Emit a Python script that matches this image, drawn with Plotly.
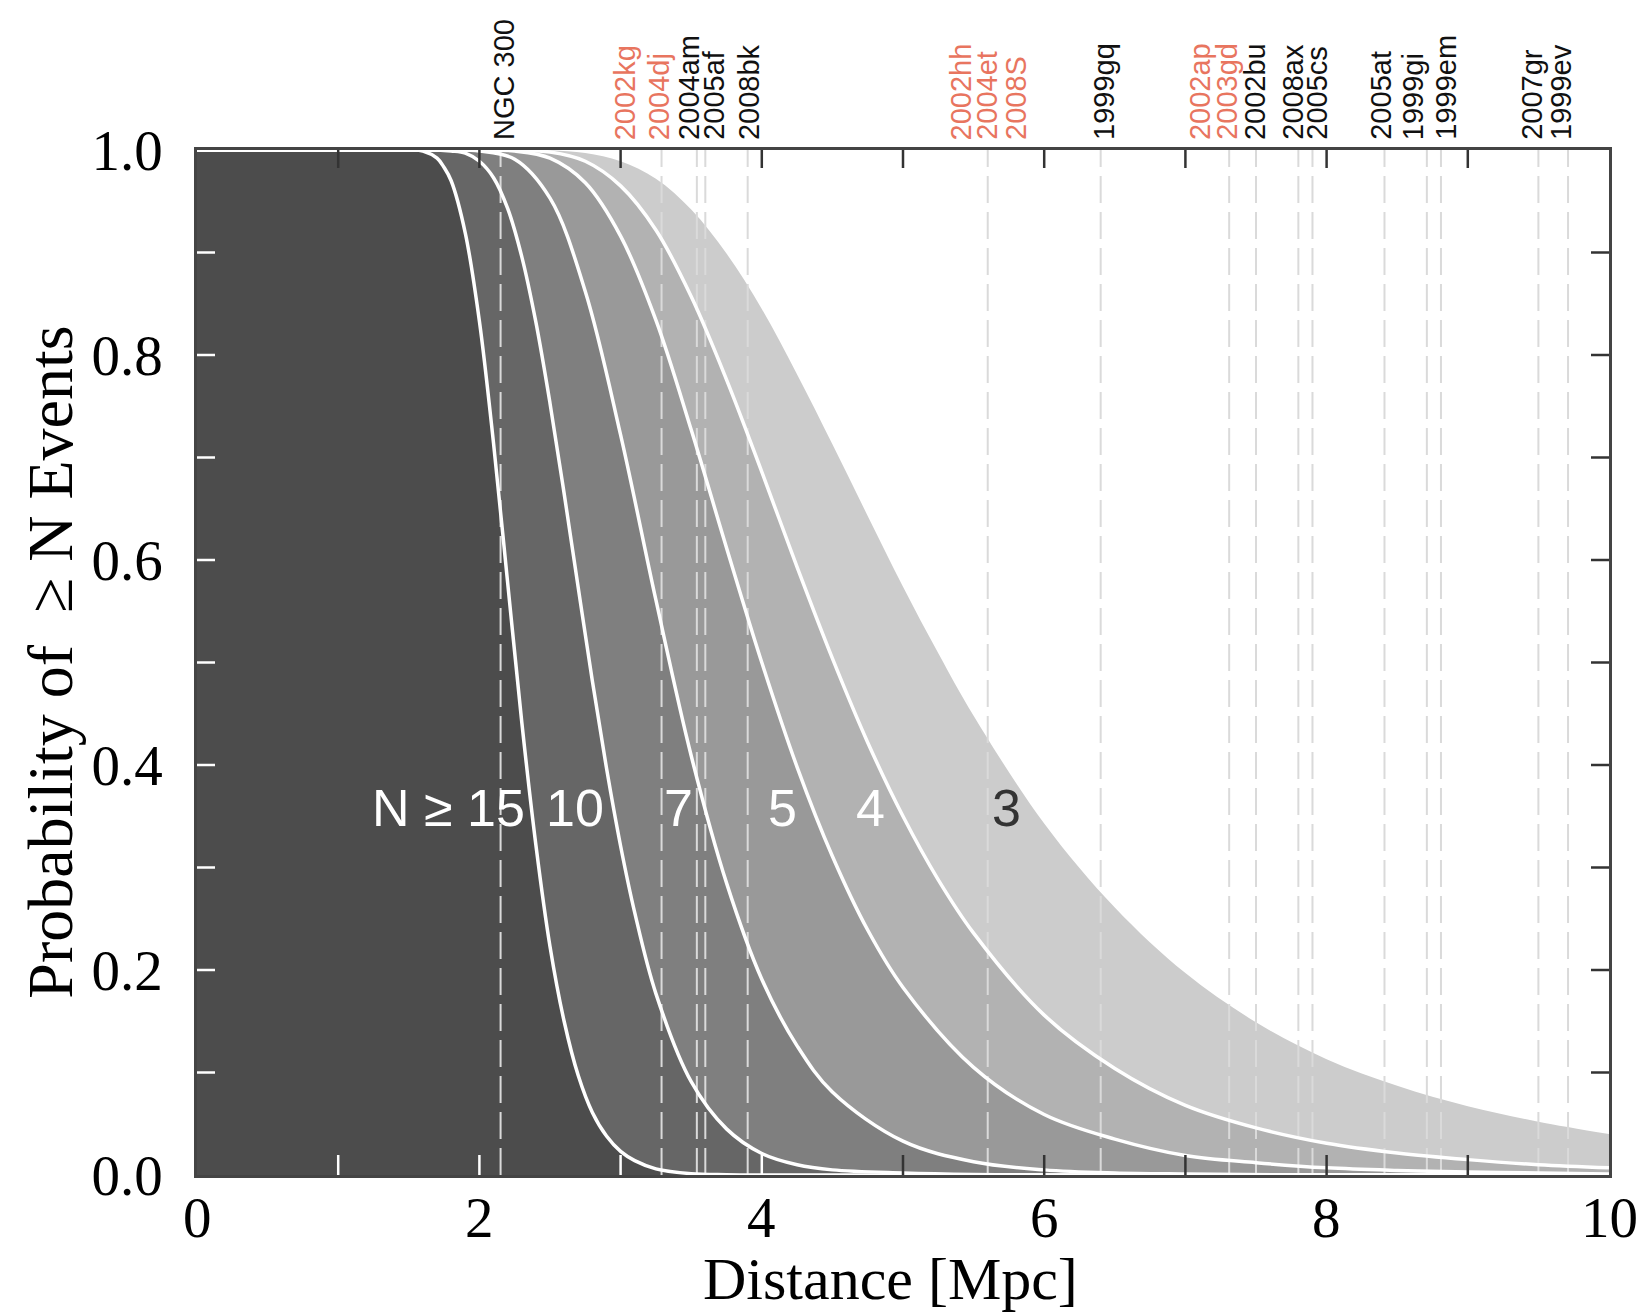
import plotly.graph_objects as go

# Probability of detecting at least N events versus distance (Mpc)
dist_n3 = [0, 1.0, 1.5, 2.0, 2.25, 2.5, 2.75, 3.0, 3.25, 3.5, 3.75, 4.0, 4.25, 4.5, 4.75, 5.0,
           5.25, 5.5, 6.0, 6.5, 7.0, 7.5, 8.0, 8.5, 9.0, 9.5, 10]
prob_n3 = [1, 1, 1, 1, 1, 0.9995, 0.997, 0.989, 0.972, 0.942, 0.899, 0.845, 0.781, 0.713, 0.643, 0.574,
           0.509, 0.448, 0.343, 0.261, 0.197, 0.149, 0.113, 0.087, 0.067, 0.052, 0.040]

dist_n4 = [0, 1.0, 1.5, 2.0, 2.25, 2.5, 2.75, 3.0, 3.25, 3.5, 3.75, 4.0, 4.25, 4.5, 4.75, 5.0,
           5.25, 5.5, 6.0, 6.5, 7.0, 7.5, 8.0, 8.5, 9.0, 9.5, 10]
prob_n4 = [1, 1, 1, 1, 0.9997, 0.998, 0.989, 0.965, 0.922, 0.857, 0.776, 0.686, 0.593, 0.504, 0.422, 0.350,
           0.288, 0.236, 0.156, 0.104, 0.068, 0.046, 0.031, 0.0215, 0.015, 0.010, 0.007]

dist_n5 = [0, 1.0, 1.5, 2.0, 2.25, 2.5, 2.75, 3.0, 3.25, 3.5, 3.75, 4.0, 4.25, 4.5, 4.75, 5.0,
           5.5, 6.0, 6.5, 7.0, 7.5, 8.0, 8.5, 9.0, 9.5, 10]
prob_n5 = [1, 1, 1, 1, 0.999, 0.992, 0.968, 0.916, 0.834, 0.727, 0.612, 0.500, 0.398, 0.311, 0.239, 0.183,
           0.105, 0.059, 0.035, 0.019, 0.012, 0.007, 0.0045, 0.003, 0.002, 0.001]

dist_n7 = [0, 1.0, 1.5, 1.8, 2.0, 2.25, 2.5, 2.75, 3.0, 3.25, 3.5, 3.75, 4.0, 4.25, 4.5, 5.0,
           5.5, 6.0, 6.5, 7.0, 8.0, 9.0, 10]
prob_n7 = [1, 1, 1, 1, 0.999, 0.991, 0.953, 0.862, 0.722, 0.561, 0.409, 0.285, 0.191, 0.126, 0.081, 0.033,
           0.013, 0.005, 0.002, 0.001, 0, 0, 0]

dist_n10 = [0, 1.0, 1.5, 1.7, 1.8, 1.9, 2.0, 2.1, 2.2, 2.3, 2.4, 2.5, 2.6, 2.7, 2.8, 2.9, 3.0, 3.1,
            3.25, 3.5, 3.75, 4.0, 4.25, 4.5, 5.0, 5.5, 6.0, 7.0, 8.0, 9.0, 10]
prob_n10 = [1, 1, 1, 1, 0.999, 0.997, 0.989, 0.973, 0.943, 0.896, 0.832, 0.753, 0.665, 0.573, 0.482, 0.397, 0.321, 0.256,
            0.177, 0.091, 0.045, 0.021, 0.010, 0.005, 0.002, 0.0005, 0, 0, 0, 0, 0]

dist_n15 = [0, 1.0, 1.5, 1.6, 1.7, 1.75, 1.8, 1.9, 2.0, 2.1, 2.2, 2.3, 2.4, 2.5, 2.6, 2.7, 2.8, 2.9,
            3.0, 3.1, 3.25, 3.5, 3.75, 4.0, 5.0, 6.0, 7.0, 8.0, 9.0, 10]
prob_n15 = [1, 1, 1, 0.999, 0.992, 0.983, 0.970, 0.919, 0.833, 0.714, 0.578, 0.442, 0.322, 0.223, 0.150, 0.097, 0.061, 0.038,
            0.023, 0.014, 0.006, 0.0013, 0.0003, 0, 0, 0, 0, 0, 0, 0]

# Nearby supernovae: name, host distance (Mpc), highlighted (red) or not
sn_names = ["NGC 300", "2002kg", "2004dj", "2004am", "2005af", "2008bk",
            "2002hh", "2004et", "2008S", "1999gq", "2002ap", "2003gd",
            "2002bu", "2008ax", "2005cs", "2005at", "1999gi", "1999em",
            "2007gr", "1999ev"]
sn_dist = [2.15, 3.29, 3.29, 3.54, 3.60, 3.90, 5.60, 5.60, 5.60, 6.40,
           7.31, 7.31, 7.50, 7.80, 7.90, 8.41, 8.71, 8.81, 9.50, 9.71]
sn_red = [False, True, True, False, False, False, True, True, True, False,
          True, True, False, False, False, False, False, False, False, False]
# label columns are spread apart so neighbouring names do not collide
sn_label_x = [2.17, 3.03, 3.27, 3.48, 3.66, 3.91, 5.41, 5.59, 5.80, 6.42,
              7.10, 7.29, 7.49, 7.76, 7.93, 8.38, 8.61, 8.84, 9.45, 9.66]

region_labels = ["N \u2265 15", "10", "7", "5", "4", "3"]
region_label_x = [1.78, 2.68, 3.41, 4.15, 4.77, 5.73]

x_ticks = [0, 2, 4, 6, 8, 10]
y_ticks = [0.0, 0.2, 0.4, 0.6, 0.8, 1.0]

curves = [
    (dist_n3, prob_n3, "#cccccc", False),
    (dist_n4, prob_n4, "#b2b2b2", True),
    (dist_n5, prob_n5, "#999999", True),
    (dist_n7, prob_n7, "#7f7f7f", True),
    (dist_n10, prob_n10, "#666666", True),
    (dist_n15, prob_n15, "#4c4c4c", True),
]

fig = go.Figure()

# stacked grey bands: lightest (N>=3) first, darkest (N>=15) on top
for xs, ys, col, _ in curves:
    fig.add_trace(go.Scatter(
        x=xs, y=ys, mode="lines", fill="tozeroy", fillcolor=col,
        line=dict(color=col, width=0, shape="spline", smoothing=1.0),
        hoverinfo="skip", showlegend=False))

# dashed markers at each supernova distance
vx, vy = [], []
for d in sorted(set(sn_dist)):
    vx += [d, d, None]
    vy += [0, 1, None]
fig.add_trace(go.Scatter(
    x=vx, y=vy, mode="lines",
    line=dict(color="#dadada", width=2, dash="27px,9px"),
    hoverinfo="skip", showlegend=False))

# white boundaries between the bands
for xs, ys, col, outline in curves:
    if outline:
        fig.add_trace(go.Scatter(
            x=xs, y=ys, mode="lines",
            line=dict(color="white", width=3.5, shape="spline", smoothing=1.0),
            hoverinfo="skip", showlegend=False))

serif_family = "Liberation Serif, Times New Roman, serif"
sans_family = "Liberation Sans, Arial, sans-serif"

annotations = []
for name, lx, red in zip(sn_names, sn_label_x, sn_red):
    annotations.append(dict(
        x=lx, y=1, xref="x", yref="paper", text=name, showarrow=False,
        textangle=-90, xanchor="center", yanchor="bottom", yshift=8,
        font=dict(family=sans_family, size=29,
                  color="#e8755f" if red else "#111111")))

for i, (txt, lx) in enumerate(zip(region_labels, region_label_x)):
    annotations.append(dict(
        x=lx, y=0.358, xref="x", yref="y", text=txt, showarrow=False,
        xanchor="center", yanchor="middle",
        font=dict(family=sans_family, size=52,
                  color="#333333" if i == len(region_labels) - 1 else "white")))

# x tick labels
for t in x_ticks:
    annotations.append(dict(
        x=t, y=0, xref="x", yref="paper", text=str(t), showarrow=False,
        xanchor="center", yanchor="middle", yshift=-42,
        font=dict(family=serif_family, size=57, color="black")))

annotations.append(dict(
    x=0.4915, y=-0.101, xref="paper", yref="paper", text="Distance [Mpc]",
    showarrow=False, xanchor="center", yanchor="middle",
    font=dict(family=serif_family, size=60, color="black")))
annotations.append(dict(
    x=-0.104, y=0.5, xref="paper", yref="paper",
    text="Probability of \u00a0\u2265 N Events", textangle=-90,
    showarrow=False, xanchor="center", yanchor="middle",
    font=dict(family=serif_family, size=64, color="black")))

# tick marks drawn inside the frame, coloured for contrast with the bands
shapes = []
for t in range(1, 10):
    shapes.append(dict(type="line", xref="x", yref="y", x0=t, x1=t,
                       ysizemode="pixel", yanchor=0, y0=0, y1=20,
                       line=dict(color="white" if t <= 4 else "#333333", width=2.5)))
    shapes.append(dict(type="line", xref="x", yref="y", x0=t, x1=t,
                       ysizemode="pixel", yanchor=1, y0=0, y1=-18,
                       line=dict(color="#333333", width=2.5)))
for k in range(1, 10):
    v = k / 10
    shapes.append(dict(type="line", xref="x", yref="y", y0=v, y1=v,
                       xsizemode="pixel", xanchor=0, x0=0, x1=18,
                       line=dict(color="white", width=2.5)))
    shapes.append(dict(type="line", xref="x", yref="y", y0=v, y1=v,
                       xsizemode="pixel", xanchor=10, x0=0, x1=-18,
                       line=dict(color="#333333", width=2.5)))

fig.update_layout(
    width=1644, height=1313,
    margin=dict(l=197, r=35, t=150, b=138),
    paper_bgcolor="white", plot_bgcolor="white",
    annotations=annotations, shapes=shapes,
    xaxis=dict(range=[0, 10], showticklabels=False,
               ticks="", showgrid=False, zeroline=False, showline=True, mirror=True,
               linecolor="#444444", linewidth=2.5),
    yaxis=dict(range=[0, 1], tickvals=y_ticks, ticktext=[f"{t:.1f}" for t in y_ticks],
               ticks="", showgrid=False, zeroline=False, showline=True, mirror=True,
               linecolor="#444444", linewidth=2.5,
               tickfont=dict(family=serif_family, size=57, color="black"),
               ticklabelstandoff=20),
)

fig.write_html("out.html")
